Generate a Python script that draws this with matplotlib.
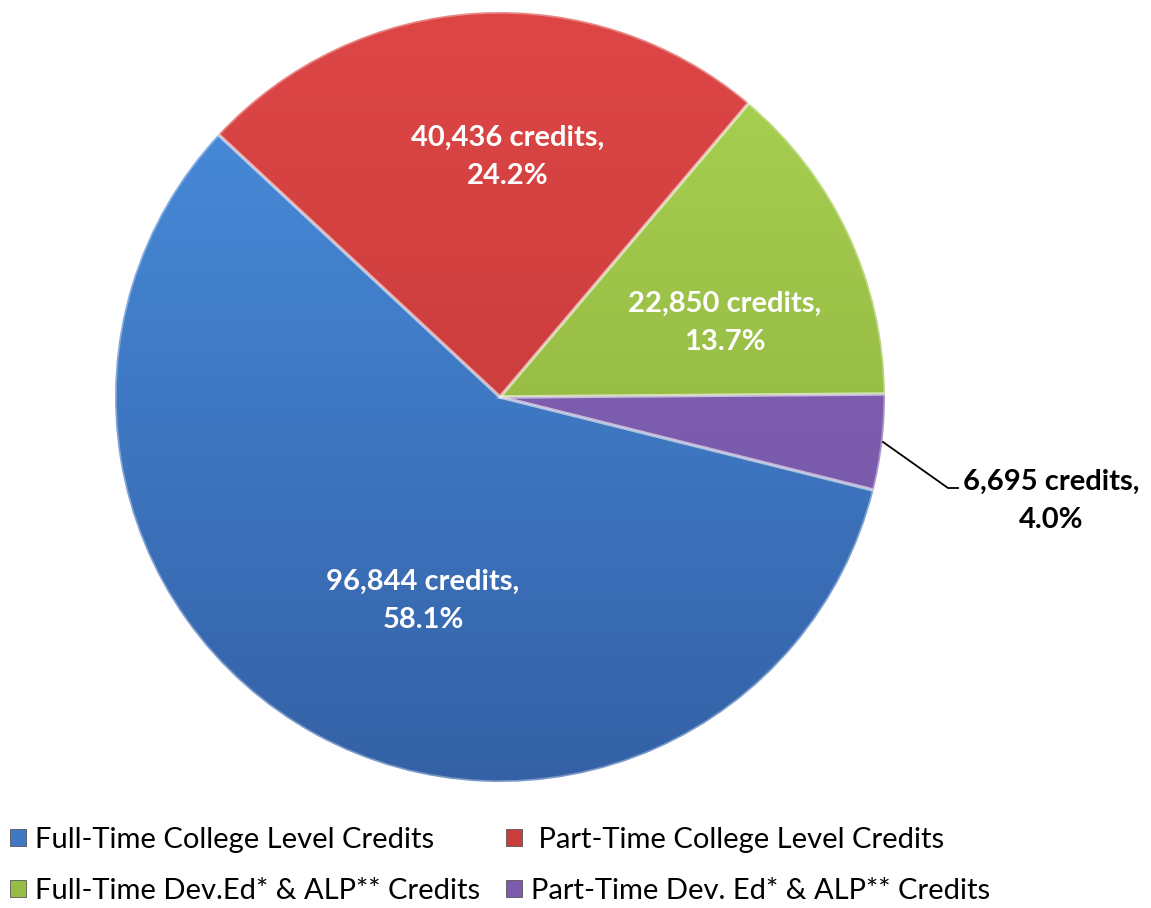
import matplotlib
matplotlib.use("Agg")
import matplotlib.pyplot as plt
import numpy as np
from matplotlib.colors import LinearSegmentedColormap
from matplotlib.patches import Patch

plt.rcParams["font.family"] = ["Lato", "DejaVu Sans"]

# --- data ---
categories = [
    "Full-Time College Level Credits",
    " Part-Time College Level Credits",
    "Full-Time Dev.Ed* & ALP** Credits",
    "Part-Time Dev. Ed* & ALP** Credits",
]
credits = [96844, 40436, 22850, 6695]

# top / bottom colours of the shaded wedges
top_colors = ["#4a90e0", "#de4646", "#aad352", "#8c69bb"]
bottom_colors = ["#3461a6", "#bb3636", "#86a83a", "#6f51a0"]
legend_colors = ["#3f78c4", "#c93d3d", "#98bd46", "#7d5cae"]

W, H = 1151, 908
fig = plt.figure(figsize=(W / 100, H / 100), dpi=100)
ax = fig.add_axes([0, 0, 1, 1])

cx, cy, r = 500, H - 397, 385

wedges, _ = ax.pie(
    credits,
    center=(cx, cy),
    radius=r,
    startangle=346,
    counterclock=False,
    frame=True,
)
ax.set_xlim(0, W)
ax.set_ylim(0, H)
ax.set_aspect("equal")
ax.axis("off")

grad = np.linspace(0, 1, 256).reshape(-1, 1)
for w, c0, c1 in zip(wedges, top_colors, bottom_colors):
    cmap = LinearSegmentedColormap.from_list("g", [c0, c1])
    im = ax.imshow(grad, cmap=cmap, extent=(cx - r, cx + r, cy - r, cy + r),
                   origin="upper", aspect="auto", zorder=1)
    im.set_clip_path(w)
    w.set_facecolor("none")
    w.set_edgecolor((1, 1, 1, 0.35))
    w.set_linewidth(2.5)
    w.set_zorder(2)

total = sum(credits)
labels = [f"{v:,} credits,\n{v / total * 100:.1f}%" for v in credits]

label_pos = [(423, H - 601), (508, H - 157), (725, H - 323)]
for (x, y), txt in zip(label_pos, labels[:3]):
    ax.text(x, y, txt, ha="center", va="center", color="white",
            fontsize=21, fontweight="bold", linespacing=1.6, zorder=5)

# small slice: label outside with leader line
ax.plot([883, 948, 958], [H - 442, H - 488, H - 488], color="black", lw=1.3, zorder=5)
ax.text(1051, H - 501, labels[3], ha="center", va="center", color="black",
        fontsize=21, fontweight="bold", linespacing=1.6, zorder=5)

# legend (column-major order -> blue, green | red, purple)
order = [0, 2, 1, 3]
handles = [Patch(facecolor=legend_colors[i], edgecolor="#555555", linewidth=0.6) for i in order]
fig.legend(handles, [categories[i] for i in order], ncol=2, frameon=False,
           loc="lower left", bbox_to_anchor=(0.005, 0.0),
           fontsize=21, handlelength=0.55, handleheight=0.55, handletextpad=0.3,
           columnspacing=0.9, labelspacing=0.85, borderaxespad=0.0, borderpad=0.15)

fig.savefig("out.png", dpi=100)
